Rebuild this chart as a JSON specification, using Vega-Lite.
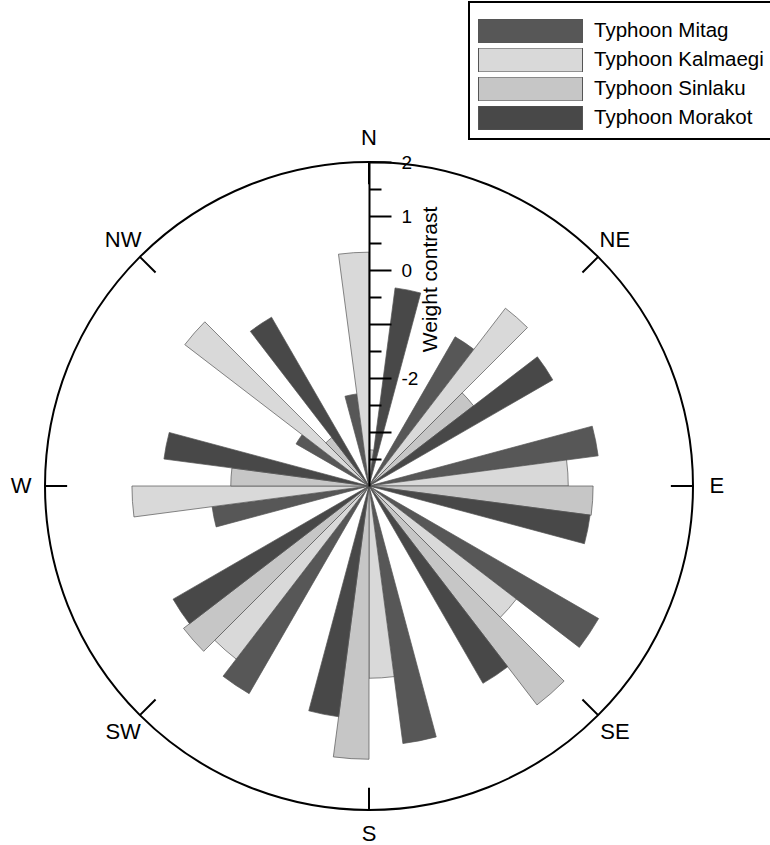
{
  "$schema": "https://vega.github.io/schema/vega-lite/v6.json",
  "autosize": {"type": "none"},
  "padding": {"left": 45, "top": 162, "right": 77, "bottom": 35},
  "width": 648,
  "height": 648,
  "config": {
    "view": {"stroke": null},
    "font": "Liberation Sans"
  },
  "datasets": {
    "bars": [
      {"dir": "N", "series": "Typhoon Mitag", "a0": 345, "a1": 352.5, "value": -2.28},
      {"dir": "N", "series": "Typhoon Kalmaegi", "a0": 352.5, "a1": 360, "value": 0.33},
      {"dir": "N", "series": "Typhoon Sinlaku", "a0": 0, "a1": 7.5, "value": -3.33},
      {"dir": "N", "series": "Typhoon Morakot", "a0": 7.5, "a1": 15, "value": -0.30},
      {"dir": "NE", "series": "Typhoon Mitag", "a0": 30, "a1": 37.5, "value": -0.81},
      {"dir": "NE", "series": "Typhoon Kalmaegi", "a0": 37.5, "a1": 45, "value": 0.15},
      {"dir": "NE", "series": "Typhoon Sinlaku", "a0": 45, "a1": 52.5, "value": -1.56},
      {"dir": "NE", "series": "Typhoon Morakot", "a0": 52.5, "a1": 60, "value": -0.07},
      {"dir": "E", "series": "Typhoon Mitag", "a0": 75, "a1": 82.5, "value": 0.28},
      {"dir": "E", "series": "Typhoon Kalmaegi", "a0": 82.5, "a1": 90, "value": -0.31},
      {"dir": "E", "series": "Typhoon Sinlaku", "a0": 90, "a1": 97.5, "value": 0.15},
      {"dir": "E", "series": "Typhoon Morakot", "a0": 97.5, "a1": 105, "value": 0.13},
      {"dir": "SE", "series": "Typhoon Mitag", "a0": 120, "a1": 127.5, "value": 0.91},
      {"dir": "SE", "series": "Typhoon Kalmaegi", "a0": 127.5, "a1": 135, "value": -0.56},
      {"dir": "SE", "series": "Typhoon Sinlaku", "a0": 135, "a1": 142.5, "value": 1.11},
      {"dir": "SE", "series": "Typhoon Morakot", "a0": 142.5, "a1": 150, "value": 0.22},
      {"dir": "S", "series": "Typhoon Mitag", "a0": 165, "a1": 172.5, "value": 0.81},
      {"dir": "S", "series": "Typhoon Kalmaegi", "a0": 172.5, "a1": 180, "value": -0.44},
      {"dir": "S", "series": "Typhoon Sinlaku", "a0": 180, "a1": 187.5, "value": 1.06},
      {"dir": "S", "series": "Typhoon Morakot", "a0": 187.5, "a1": 195, "value": 0.31},
      {"dir": "SW", "series": "Typhoon Mitag", "a0": 210, "a1": 217.5, "value": 0.44},
      {"dir": "SW", "series": "Typhoon Kalmaegi", "a0": 217.5, "a1": 225, "value": 0.04},
      {"dir": "SW", "series": "Typhoon Sinlaku", "a0": 225, "a1": 232.5, "value": 0.33},
      {"dir": "SW", "series": "Typhoon Morakot", "a0": 232.5, "a1": 240, "value": 0.19},
      {"dir": "W", "series": "Typhoon Mitag", "a0": 255, "a1": 262.5, "value": -1.07},
      {"dir": "W", "series": "Typhoon Kalmaegi", "a0": 262.5, "a1": 270, "value": 0.39},
      {"dir": "W", "series": "Typhoon Sinlaku", "a0": 270, "a1": 277.5, "value": -1.44},
      {"dir": "W", "series": "Typhoon Morakot", "a0": 277.5, "a1": 285, "value": -0.17},
      {"dir": "NW", "series": "Typhoon Mitag", "a0": 300, "a1": 307.5, "value": -2.44},
      {"dir": "NW", "series": "Typhoon Kalmaegi", "a0": 307.5, "a1": 315, "value": 0.30},
      {"dir": "NW", "series": "Typhoon Sinlaku", "a0": 315, "a1": 322.5, "value": -2.87},
      {"dir": "NW", "series": "Typhoon Morakot", "a0": 322.5, "a1": 330, "value": -0.39}
    ],
    "compass": [
      {"lab": "N", "ang": 0},
      {"lab": "NE", "ang": 45},
      {"lab": "E", "ang": 90},
      {"lab": "SE", "ang": 135},
      {"lab": "S", "ang": 180},
      {"lab": "SW", "ang": 225},
      {"lab": "W", "ang": 270},
      {"lab": "NW", "ang": 315}
    ],
    "axisrange": [{"v": -4}, {"v": 2}]
  },
  "layer": [
    {
      "data": {"name": "axisrange"},
      "transform": [{"filter": "datum.v == 2"}],
      "mark": {"type": "arc", "filled": false, "stroke": "black", "strokeWidth": 2, "theta": 0, "theta2": 6.2832},
      "encoding": {
        "radius": {"field": "v", "type": "quantitative", "scale": {"type": "linear", "zero": false, "domain": [-4, 2], "range": [0, 324]}},
        "radius2": {"datum": -4}
      }
    },
    {
      "data": {"name": "compass"},
      "mark": {"type": "arc", "filled": false, "stroke": "black", "strokeWidth": 2},
      "encoding": {
        "theta": {"field": "ang", "type": "quantitative", "stack": null, "scale": {"domain": [0, 360], "range": [0, 6.283185307179586]}},
        "theta2": {"field": "ang"},
        "radius": {"datum": 2, "type": "quantitative"},
        "radius2": {"datum": 1.59}
      }
    },
    {
      "data": {"name": "compass"},
      "mark": {"type": "text", "fontSize": 22, "font": "Liberation Sans", "align": "center", "baseline": "middle", "color": "black"},
      "encoding": {
        "theta": {"field": "ang", "type": "quantitative", "stack": null},
        "radius": {"datum": 2.44, "type": "quantitative"},
        "text": {"field": "lab"}
      }
    },
    {
      "data": {"name": "bars"},
      "mark": {"type": "arc", "stroke": "#555555", "strokeWidth": 0.7},
      "encoding": {
        "theta": {"field": "a0", "type": "quantitative", "stack": null},
        "theta2": {"field": "a1"},
        "radius": {"field": "value", "type": "quantitative"},
        "radius2": {"datum": -4},
        "fill": {
          "field": "series",
          "type": "nominal",
          "scale": {
            "domain": ["Typhoon Mitag", "Typhoon Kalmaegi", "Typhoon Sinlaku", "Typhoon Morakot"],
            "range": ["#575757", "#d9d9d9", "#c6c6c6", "#484848"]
          },
          "legend": {
            "orient": "none",
            "legendX": 424,
            "legendY": -160,
            "title": " ",
            "titleFontSize": 8,
            "titlePadding": 0,
            "padding": 9,
            "strokeColor": "black",
            "symbolType": "M-1,-0.23H1V0.23H-1Z",
            "symbolSize": 10816,
            "clipHeight": 24,
            "rowPadding": 5,
            "labelOffset": 11,
            "labelFontSize": 20.5,
            "labelFont": "Liberation Sans",
            "labelColor": "black",
            "labelLimit": 400,
            "symbolStrokeColor": "#555555",
            "symbolStrokeWidth": 1,
            "symbolOpacity": 1,
            "encode": {"legend": {"update": {"strokeWidth": {"value": 2}}}}
          }
        }
      }
    },
    {
      "data": {"name": "axisrange"},
      "mark": {"type": "point", "opacity": 0},
      "encoding": {
        "y": {
          "field": "v",
          "type": "quantitative",
          "scale": {"domain": [-4, 2], "range": [324, 0], "zero": false, "nice": false},
          "axis": {
            "orient": "right",
            "offset": -324,
            "values": [-3, -2, -1, 0, 1, 2],
            "labelExpr": "datum.value == -1 || datum.value == -3 ? '' : '' + datum.value",
            "tickSize": 22,
            "tickWidth": 2,
            "tickColor": "black",
            "domainColor": "black",
            "domainWidth": 2,
            "grid": false,
            "labelFontSize": 19,
            "labelFont": "Liberation Sans",
            "labelColor": "black",
            "labelPadding": 10,
            "labelOverlap": false,
            "labelFlush": false,
            "title": "Weight contrast",
            "titleFont": "Liberation Sans",
            "titleFontSize": 21,
            "titleFontWeight": "normal",
            "titleColor": "black",
            "titleAngle": 270,
            "titleAlign": "center",
            "titleBaseline": "alphabetic",
            "titleX": 67,
            "titleY": 117,
            "zindex": 1
          }
        }
      }
    },
    {
      "data": {"name": "axisrange"},
      "mark": {"type": "point", "opacity": 0},
      "encoding": {
        "y": {
          "field": "v",
          "type": "quantitative",
          "scale": {"domain": [-4, 2], "range": [324, 0], "zero": false, "nice": false},
          "axis": {
            "orient": "right",
            "offset": -324,
            "values": [-3.5, -2.5, -1.5, -0.5, 0.5, 1.5],
            "tickSize": 12,
            "tickWidth": 2,
            "tickColor": "black",
            "domain": false,
            "labels": false,
            "grid": false,
            "title": null,
            "zindex": 1
          }
        }
      }
    }
  ],
  "resolve": {"scale": {"y": "independent"}, "axis": {"y": "independent"}}
}
